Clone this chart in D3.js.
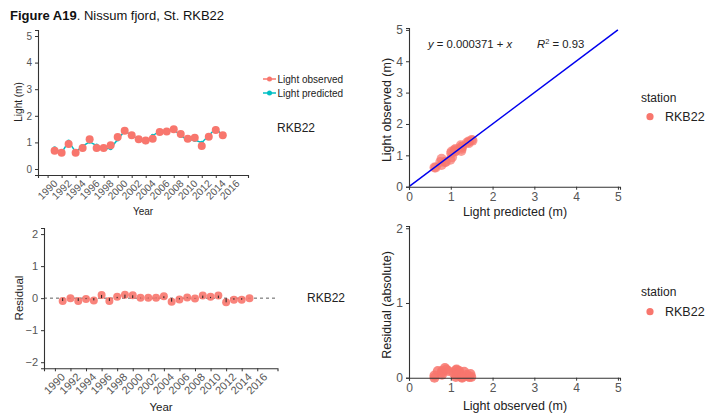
<!DOCTYPE html>
<html><head><meta charset="utf-8">
<script src="https://cdn.jsdelivr.net/npm/d3@7"></script>
<style>
body{margin:0;background:#fff;}
svg{display:block;font-family:"Liberation Sans",Arial,sans-serif;}
.tick text{fill:#555;}
</style></head><body>
<svg id="c" width="708" height="414"></svg>
<script>
const years = [1991,1992,1993,1994,1995,1996,1997,1998,1999,2000,2001,2002,2003,2004,2005,2006,2007,2008,2009,2010,2011,2012,2013,2014,2015];
const observed = [0.69,0.61,0.94,0.61,0.79,1.12,0.79,0.79,0.89,1.20,1.44,1.27,1.12,1.07,1.14,1.39,1.41,1.49,1.32,1.14,1.17,0.86,1.21,1.47,1.27];
const residual = [-0.09,0.00,-0.09,-0.03,-0.07,0.10,-0.09,0.04,0.11,0.09,0.01,0.01,0.01,0.06,-0.11,-0.04,0.02,-0.01,0.08,0.04,0.08,-0.13,-0.05,-0.05,0.00];
const predicted = observed.map((o,i)=>+(o-residual[i]).toFixed(3));
const yearTicks = d3.range(1990,2017,2);
const lightTicks = [0,1,2,3,4,5];
const resTicks = [-2,-1,0,1,2];
const absTicks = [0,1,2];
const station = "RKB22";
const RED = "#F8766D", CYAN = "#00BFC4";
const fmt = d3.format("d");

const svg = d3.select("#c");

// Title
const t = svg.append("text").attr("x",10).attr("y",20).attr("font-size",13).attr("fill","#111");
t.append("tspan").attr("font-weight","bold").text("Figure A19");
t.append("tspan").text(". Nissum fjord, St. RKB22");

function styleAxis(g, fs){
  g.selectAll(".domain").attr("stroke","#333").attr("stroke-width",1.1);
  g.selectAll(".tick line").attr("stroke","#333");
  g.selectAll(".tick text").attr("font-size",fs).attr("fill","#555");
}
function yearAxis(g, x, y0, fs){
  const ax = g.append("g").attr("transform",`translate(0,${y0})`)
    .call(d3.axisBottom(x).tickValues(yearTicks).tickFormat(fmt).tickSizeOuter(0).tickSize(3));
  styleAxis(ax, fs);
  ax.selectAll(".tick text").attr("text-anchor","end").attr("dy","0.7em").attr("y",0)
    .attr("transform","translate(5,4) rotate(-45)");
}

// ---------- Panel 1: Light time series ----------
{
  const x = d3.scaleLinear().domain([1988.63,2018.6]).range([38,248]);
  const y = d3.scaleLinear().domain([-0.226,5.226]).range([175,30]);
  const g = svg.append("g");
  yearAxis(g, x, 175, 10.3);
  const ay = g.append("g").attr("transform","translate(38,0)")
    .call(d3.axisLeft(y).tickValues(lightTicks).tickFormat(fmt).tickSizeOuter(0).tickSize(3));
  styleAxis(ay, 10);
  g.append("path").datum(years.map((yr,i)=>[yr,predicted[i]]))
    .attr("fill","none").attr("stroke",CYAN).attr("stroke-width",1.5)
    .attr("d",d3.line().x(d=>x(d[0])).y(d=>y(d[1])));
  g.selectAll(".pp").data(years).join("circle").attr("cx",d=>x(d)).attr("cy",(d,i)=>y(predicted[i])).attr("r",2).attr("fill",CYAN);
  g.selectAll(".op").data(years).join("circle").attr("cx",d=>x(d)).attr("cy",(d,i)=>y(observed[i])).attr("r",4).attr("fill",RED);
  g.append("text").attr("x",143).attr("y",215).attr("text-anchor","middle").attr("font-size",10).attr("fill","#222").text("Year");
  g.append("text").attr("transform","translate(22,102) rotate(-90)").attr("text-anchor","middle").attr("font-size",10).attr("fill","#222").text("Light (m)");
  // legend
  const leg = [["Light observed",RED,79],["Light predicted",CYAN,93]];
  leg.forEach(([lab,col,yy])=>{
    g.append("line").attr("x1",263).attr("x2",276).attr("y1",yy).attr("y2",yy).attr("stroke",col).attr("stroke-width",1.5);
    g.append("circle").attr("cx",269.5).attr("cy",yy).attr("r",2.5).attr("fill",col);
    g.append("text").attr("x",277.5).attr("y",yy+3.5).attr("font-size",10).attr("fill","#222").text(lab);
  });
  g.append("text").attr("x",277).attr("y",132).attr("font-size",12).attr("fill","#222").text(station);
}

// ---------- Panel 2: Residual time series ----------
{
  const x = d3.scaleLinear().domain([1988.6,2018.6]).range([44,277.5]);
  const y = d3.scaleLinear().domain([-2.19,2.19]).range([368.3,228]);
  const g = svg.append("g");
  g.append("line").attr("x1",44).attr("x2",277.5).attr("y1",y(0)).attr("y2",y(0))
    .attr("stroke","#333").attr("stroke-dasharray","3,3").attr("stroke-width",0.8);
  g.selectAll(".rp").data(years).join("circle").attr("cx",d=>x(d)).attr("cy",(d,i)=>y(residual[i])).attr("r",4).attr("fill",RED).attr("opacity",0.9);
  g.selectAll(".rs").data(years).join("line").attr("x1",d=>x(d)).attr("x2",d=>x(d))
    .attr("y1",y(0)).attr("y2",(d,i)=>y(residual[i])).attr("stroke","#222").attr("stroke-width",1);
  yearAxis(g, x, 368.3, 11);
  const ay = g.append("g").attr("transform","translate(44,0)")
    .call(d3.axisLeft(y).tickValues(resTicks).tickFormat(fmt).tickSizeOuter(0).tickSize(3));
  styleAxis(ay, 11);
  g.append("text").attr("x",161).attr("y",411).attr("text-anchor","middle").attr("font-size",11.5).attr("fill","#222").text("Year");
  g.append("text").attr("transform","translate(23,298) rotate(-90)").attr("text-anchor","middle").attr("font-size",11.5).attr("fill","#222").text("Residual");
  g.append("text").attr("x",307).attr("y",301.5).attr("font-size",12).attr("fill","#222").text(station);
}

// ---------- Panel 3: observed vs predicted ----------
{
  const x = d3.scaleLinear().domain([0,5.05]).range([409,620]);
  const y = d3.scaleLinear().domain([0,5.06]).range([186.7,28]);
  const g = svg.append("g");
  g.selectAll(".sp").data(years).join("circle").attr("cx",(d,i)=>x(predicted[i])).attr("cy",(d,i)=>y(observed[i])).attr("r",5).attr("fill",RED).attr("opacity",0.7);
  g.append("line").attr("x1",x(0)).attr("y1",y(0)).attr("x2",x(5)).attr("y2",y(5)).attr("stroke","#0000EE").attr("stroke-width",1.5);
  const ax = g.append("g").attr("transform","translate(0,186.7)")
    .call(d3.axisBottom(x).tickValues(lightTicks).tickFormat(fmt).tickSizeOuter(0).tickSize(3));
  styleAxis(ax, 12);
  const ay = g.append("g").attr("transform","translate(409,0)")
    .call(d3.axisLeft(y).tickValues(lightTicks).tickFormat(fmt).tickSizeOuter(0).tickSize(3));
  styleAxis(ay, 12);
  g.append("text").attr("x",515).attr("y",215.5).attr("text-anchor","middle").attr("font-size",12.5).attr("fill","#222").text("Light predicted (m)");
  g.append("text").attr("transform","translate(391,110) rotate(-90)").attr("text-anchor","middle").attr("font-size",12.5).attr("fill","#222").text("Light observed (m)");
  const eq = g.append("text").attr("x",428).attr("y",48).attr("font-size",11.3).attr("fill","#222");
  eq.append("tspan").attr("font-style","italic").text("y");
  eq.append("tspan").text(" = 0.000371 + ");
  eq.append("tspan").attr("font-style","italic").text("x");
  const r2 = g.append("text").attr("x",537).attr("y",48).attr("font-size",11.3).attr("fill","#222");
  r2.append("tspan").attr("font-style","italic").text("R");
  r2.append("tspan").attr("font-size",7.5).attr("dy",-4.5).text("2");
  r2.append("tspan").attr("dy",4.5).text(" = 0.93");
  g.append("text").attr("x",641).attr("y",102).attr("font-size",12).attr("fill","#222").text("station");
  g.append("circle").attr("cx",650).attr("cy",116.7).attr("r",3.6).attr("fill",RED);
  g.append("text").attr("x",665).attr("y",121).attr("font-size",12.5).attr("fill","#222").text(station);
}

// ---------- Panel 4: abs residual vs observed ----------
{
  const x = d3.scaleLinear().domain([0,5.05]).range([409,620]);
  const y = d3.scaleLinear().domain([0,2.03]).range([377.7,226]);
  const g = svg.append("g");
  g.selectAll(".ap").data(years).join("circle").attr("cx",(d,i)=>x(observed[i])).attr("cy",(d,i)=>y(Math.abs(residual[i]))).attr("r",5).attr("fill",RED).attr("opacity",0.85);
  const ax = g.append("g").attr("transform","translate(0,377.7)")
    .call(d3.axisBottom(x).tickValues(lightTicks).tickFormat(fmt).tickSizeOuter(0).tickSize(3));
  styleAxis(ax, 12);
  const ay = g.append("g").attr("transform","translate(409,0)")
    .call(d3.axisLeft(y).tickValues(absTicks).tickFormat(fmt).tickSizeOuter(0).tickSize(3));
  styleAxis(ay, 12);
  g.append("text").attr("x",515).attr("y",409.5).attr("text-anchor","middle").attr("font-size",12.5).attr("fill","#222").text("Light observed (m)");
  g.append("text").attr("transform","translate(391,305) rotate(-90)").attr("text-anchor","middle").attr("font-size",12.5).attr("fill","#222").text("Residual (absolute)");
  g.append("text").attr("x",641).attr("y",295.5).attr("font-size",12).attr("fill","#222").text("station");
  g.append("circle").attr("cx",650).attr("cy",311.7).attr("r",3.6).attr("fill",RED);
  g.append("text").attr("x",665).attr("y",316).attr("font-size",12.5).attr("fill","#222").text(station);
}
</script></body></html>
